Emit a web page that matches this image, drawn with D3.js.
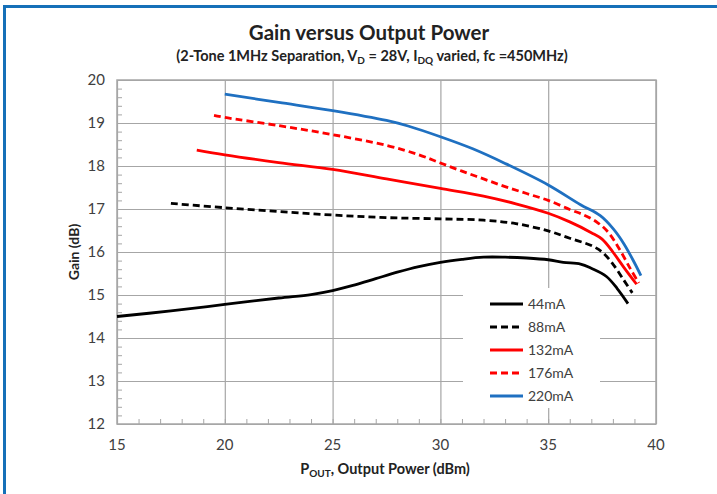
<!DOCTYPE html>
<html>
<head>
<meta charset="utf-8">
<script src="https://cdn.jsdelivr.net/npm/d3@7"></script>
<style>
  body { margin: 0; background: #fff; }
  text { font-family: Lato, "Open Sans", sans-serif; }
</style>
</head>
<body>
<div id="chart"></div>
<script>
var svgWidth = 717;
var svgHeight = 494;

var margin = { top: 80, right: 61, bottom: 70, left: 117 };
var width = svgWidth - margin.left - margin.right;
var height = svgHeight - margin.top - margin.bottom;

// data
var seriesNames = ["44mA", "88mA", "132mA", "176mA", "220mA"];
var p44  = [15, 17.5, 20, 22.5, 24, 25, 26, 27, 28, 29, 30, 31, 32, 33, 34, 35, 35.7, 36.5, 37, 37.7, 38.2, 38.7];
var g44  = [14.5, 14.63, 14.78, 14.93, 15.01, 15.1, 15.23, 15.38, 15.53, 15.66, 15.76, 15.83, 15.88, 15.88, 15.86, 15.82, 15.76, 15.72, 15.62, 15.43, 15.15, 14.8];
var p88  = [17.5, 20, 22.5, 25, 27.5, 30, 32, 33.5, 35, 36, 37, 37.5, 38, 38.5, 38.9];
var g88  = [17.13, 17.03, 16.94, 16.86, 16.8, 16.77, 16.74, 16.66, 16.49, 16.32, 16.15, 16.0, 15.72, 15.35, 15.05];
var p132 = [18.7, 20, 22.5, 25, 27.5, 30, 32, 33.5, 35, 36, 37, 37.5, 38, 38.5, 39.1];
var g132 = [18.37, 18.26, 18.08, 17.92, 17.7, 17.48, 17.3, 17.12, 16.9, 16.7, 16.45, 16.3, 16.0, 15.65, 15.25];
var p176 = [19.5, 20, 22.5, 25, 27.5, 29, 30, 31, 32, 33, 34, 35, 36, 36.7, 37.3, 37.8, 38.3, 38.8, 39.2];
var g176 = [19.18, 19.13, 18.94, 18.73, 18.48, 18.26, 18.07, 17.88, 17.7, 17.52, 17.36, 17.2, 16.99, 16.85, 16.68, 16.45, 16.07, 15.62, 15.28];
var p220 = [20, 22.5, 25, 27.5, 28.5, 30, 31.5, 33, 35, 36.5, 37.4, 38, 38.5, 39, 39.3];
var g220 = [19.67, 19.48, 19.29, 19.06, 18.93, 18.68, 18.4, 18.06, 17.56, 17.1, 16.85, 16.55, 16.2, 15.75, 15.45];
var xTicks = [15, 20, 25, 30, 35, 40];
var yTicks = [12, 13, 14, 15, 16, 17, 18, 19, 20];

var series = [
  { name: seriesNames[0], p: p44,  g: g44,  color: "#000000", dash: null },
  { name: seriesNames[1], p: p88,  g: g88,  color: "#000000", dash: "7,4" },
  { name: seriesNames[2], p: p132, g: g132, color: "#FF0000", dash: null },
  { name: seriesNames[3], p: p176, g: g176, color: "#FF0000", dash: "7,4" },
  { name: seriesNames[4], p: p220, g: g220, color: "#1F70C1", dash: null }
];

var svg = d3.select("#chart")
  .append("svg")
  .attr("width", svgWidth)
  .attr("height", svgHeight);

svg.append("rect").attr("width", svgWidth).attr("height", svgHeight).attr("fill", "#fff");

// blue frame (top and left)
svg.append("rect").attr("x", 3).attr("y", 5).attr("width", svgWidth - 3).attr("height", 3).attr("fill", "#1570B8");
svg.append("rect").attr("x", 3).attr("y", 5).attr("width", 3).attr("height", svgHeight - 5).attr("fill", "#1570B8");

var chartGroup = svg.append("g")
  .attr("transform", `translate(${margin.left}, ${margin.top})`);

var xScale = d3.scaleLinear().domain([15, 40]).range([0, width]);
var yScale = d3.scaleLinear().domain([12, 20]).range([height, 0]);

// gridlines
chartGroup.append("g")
  .call(d3.axisLeft(yScale).tickValues(yTicks).tickSize(-width).tickFormat(""))
  .call(g => g.select(".domain").remove())
  .selectAll("line").attr("stroke", "#A6A6A6").attr("stroke-width", 1.2);

chartGroup.append("g")
  .attr("transform", `translate(0, ${height})`)
  .call(d3.axisBottom(xScale).tickValues(xTicks).tickSize(-height).tickFormat(""))
  .call(g => g.select(".domain").remove())
  .selectAll("line").attr("stroke", "#A6A6A6").attr("stroke-width", 1.2);

// minor ticks
chartGroup.append("g")
  .call(d3.axisLeft(yScale).tickValues(d3.range(12, 20.01, 0.2)).tickSize(-5).tickFormat(""))
  .call(g => g.select(".domain").remove())
  .selectAll("line").attr("stroke", "#A6A6A6");

chartGroup.append("g")
  .attr("transform", `translate(0, ${height})`)
  .call(d3.axisBottom(xScale).tickValues(d3.range(15, 40.01, 1)).tickSize(-5).tickFormat(""))
  .call(g => g.select(".domain").remove())
  .selectAll("line").attr("stroke", "#A6A6A6");

// plot border
chartGroup.append("rect")
  .attr("width", width).attr("height", height)
  .attr("fill", "none").attr("stroke", "#A6A6A6").attr("stroke-width", 1.5);

// tick labels
chartGroup.selectAll(".ylab").data(yTicks).enter().append("text")
  .attr("x", -12).attr("y", d => yScale(d) + 5)
  .attr("text-anchor", "end").attr("font-size", "15px").attr("fill", "#404040")
  .text(d => d);

chartGroup.selectAll(".xlab").data(xTicks).enter().append("text")
  .attr("x", d => xScale(d)).attr("y", height + 26)
  .attr("text-anchor", "middle").attr("font-size", "15px").attr("fill", "#404040")
  .text(d => d);

// legend background
var legend = chartGroup.append("g").attr("transform", "translate(346, 208)");
legend.append("rect").attr("width", 137).attr("height", 120).attr("fill", "#fff");

// lines
var line = d3.line()
  .x(d => xScale(d[0]))
  .y(d => yScale(d[1]))
  .curve(d3.curveCatmullRom.alpha(0.5));

series.forEach(function(s) {
  chartGroup.append("path")
    .datum(s.p.map((v, i) => [v, s.g[i]]))
    .attr("d", line)
    .attr("fill", "none")
    .attr("stroke", s.color)
    .attr("stroke-width", 2.8)
    .attr("stroke-dasharray", s.dash);
});

// legend entries
series.forEach(function(s, i) {
  var yy = 16 + i * 23;
  legend.append("line")
    .attr("x1", 27).attr("x2", 60).attr("y1", yy).attr("y2", yy)
    .attr("stroke", s.color).attr("stroke-width", 2.8)
    .attr("stroke-dasharray", s.dash);
  legend.append("text")
    .attr("x", 65).attr("y", yy + 5)
    .attr("font-size", "14px").attr("fill", "#404040")
    .text(s.name);
});

// titles
svg.append("text")
  .attr("x", 369).attr("y", 40)
  .attr("text-anchor", "middle").attr("font-size", "20.5px").attr("font-weight", "bold").attr("fill", "#222")
  .text("Gain versus Output Power");

var sub = svg.append("text")
  .attr("x", 372).attr("y", 61)
  .attr("text-anchor", "middle").attr("font-size", "14.5px").attr("font-weight", "bold").attr("fill", "#222");
sub.append("tspan").text("(2-Tone 1MHz Separation, V");
sub.append("tspan").attr("dy", 3).attr("font-size", "10px").text("D");
sub.append("tspan").attr("dy", -3).text(" = 28V, I");
sub.append("tspan").attr("dy", 3).attr("font-size", "10px").text("DQ");
sub.append("tspan").attr("dy", -3).text(" varied, fc =450MHz)");

// axis labels
var xl = svg.append("text")
  .attr("x", 385).attr("y", 474)
  .attr("text-anchor", "middle").attr("font-size", "14.5px").attr("font-weight", "bold").attr("fill", "#222");
xl.append("tspan").text("P");
xl.append("tspan").attr("dy", 3).attr("font-size", "10px").text("OUT");
xl.append("tspan").attr("dy", -3).text(", Output Power (dBm)");

svg.append("text")
  .attr("transform", `translate(79, ${margin.top + height / 2}) rotate(-90)`)
  .attr("text-anchor", "middle").attr("font-size", "14px").attr("font-weight", "bold").attr("fill", "#222")
  .text("Gain (dB)");
</script>
</body>
</html>
